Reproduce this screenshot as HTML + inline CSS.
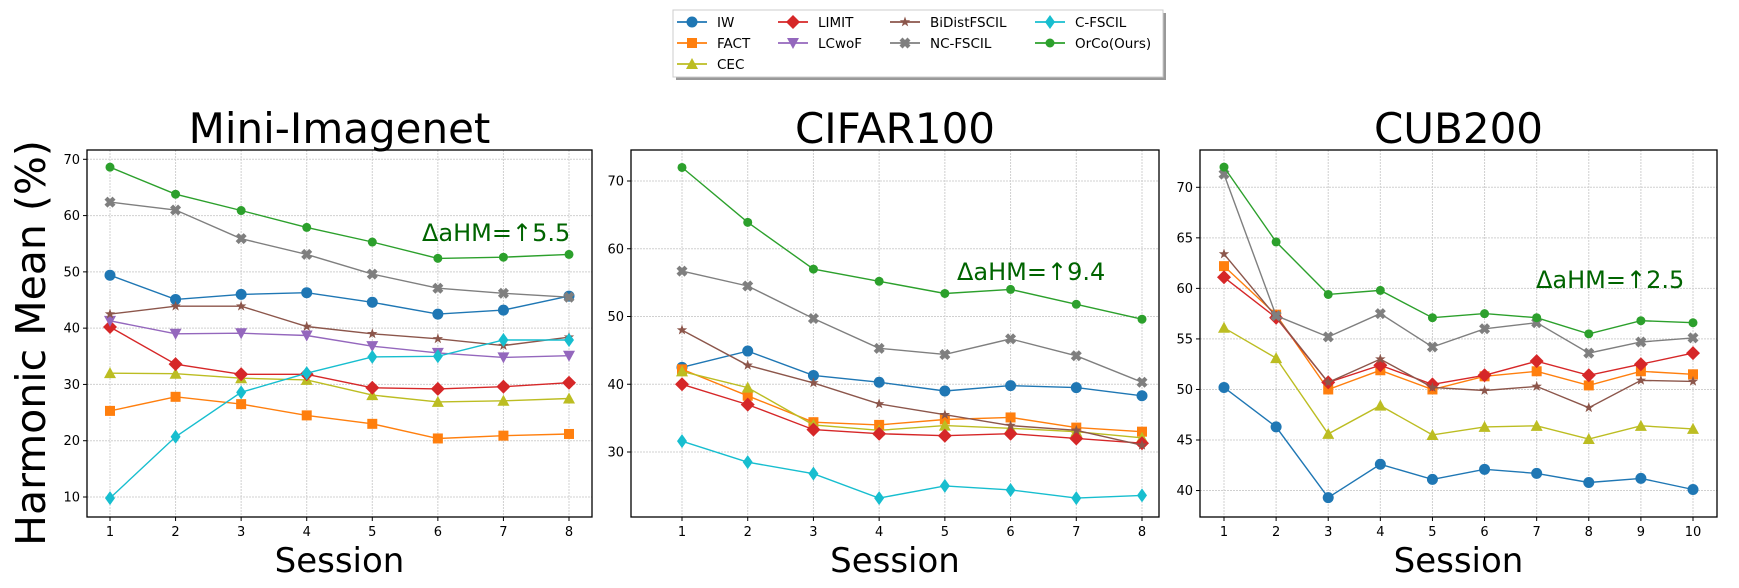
<!DOCTYPE html>
<html><head><meta charset="utf-8"><style>
html,body{margin:0;padding:0;background:#fff;}
svg{display:block;font-family:"DejaVu Sans","Liberation Sans",sans-serif;}
</style></head><body>
<svg id="chart" width="1739" height="588" viewBox="0 0 1739 588" xmlns="http://www.w3.org/2000/svg">
<text x="0" y="0" transform="translate(45,343) rotate(-90)" text-anchor="middle" font-size="41">Harmonic Mean (%)</text>
</svg>
<script>
const methods = ["IW","FACT","CEC","LIMIT","LCwoF","BiDistFSCIL","NC-FSCIL","C-FSCIL","OrCo(Ours)"];
const colors = ["#1f77b4","#ff7f0e","#bcbd22","#d62728","#9467bd","#8c564b","#7f7f7f","#17becf","#2ca02c"];
const markers = ["o","s","^","D","v","*","X","d","h"];

const sessionsMini = [1,2,3,4,5,6,7,8];
const miniIW = [49.4,45.1,46.0,46.3,44.6,42.5,43.2,45.7];
const miniFACT = [25.3,27.8,26.5,24.5,23.0,20.4,20.9,21.2];
const miniCEC = [32.0,31.9,31.1,30.8,28.1,26.9,27.1,27.5];
const miniLIMIT = [40.2,33.6,31.8,31.8,29.4,29.2,29.6,30.3];
const miniLCwoF = [41.3,39.0,39.1,38.7,36.8,35.6,34.8,35.1];
const miniBiDist = [42.5,43.9,43.9,40.3,39.0,38.1,36.9,38.4];
const miniNC = [62.4,61.0,55.9,53.1,49.6,47.1,46.2,45.5];
const miniCFSCIL = [9.8,20.7,28.6,32.0,34.9,35.0,37.9,37.9];
const miniOrCo = [68.6,63.8,60.9,57.9,55.3,52.4,52.6,53.1];
const miniTicks = [10,20,30,40,50,60,70];

const sessionsCifar = [1,2,3,4,5,6,7,8];
const cifarIW = [42.5,44.9,41.3,40.3,39.0,39.8,39.5,38.3];
const cifarFACT = [42.2,38.3,34.4,34.0,34.8,35.1,33.6,33.0];
const cifarCEC = [41.9,39.5,34.0,33.2,33.9,33.5,33.0,32.1];
const cifarLIMIT = [40.0,37.0,33.3,32.7,32.4,32.7,32.0,31.3];
const cifarBiDist = [48.0,42.8,40.2,37.1,35.5,33.9,33.2,31.0];
const cifarNC = [56.7,54.5,49.7,45.3,44.4,46.7,44.2,40.3];
const cifarCFSCIL = [31.6,28.5,26.8,23.2,25.0,24.4,23.2,23.6];
const cifarOrCo = [72.0,63.9,57.0,55.2,53.4,54.0,51.8,49.6];
const cifarTicks = [30,40,50,60,70];

const sessionsCub = [1,2,3,4,5,6,7,8,9,10];
const cubIW = [50.2,46.3,39.3,42.6,41.1,42.1,41.7,40.8,41.2,40.1];
const cubFACT = [62.2,57.4,50.0,51.9,50.0,51.3,51.8,50.4,51.8,51.5];
const cubCEC = [56.1,53.1,45.6,48.4,45.5,46.3,46.4,45.1,46.4,46.1];
const cubLIMIT = [61.1,57.1,50.7,52.4,50.5,51.4,52.8,51.4,52.5,53.6];
const cubBiDist = [63.4,57.2,50.7,53.0,50.2,49.9,50.3,48.2,50.9,50.8];
const cubNC = [71.3,57.3,55.2,57.5,54.2,56.0,56.6,53.6,54.7,55.1];
const cubOrCo = [72.0,64.6,59.4,59.8,57.1,57.5,57.1,55.5,56.8,56.6];
const cubTicks = [40,45,50,55,60,65,70];

const panels = [
 {name:"mini-imagenet",title:"Mini-Imagenet",x0:87,x1:592,sx0:110,sx1:569,vA:70,yA:159.3,vB:10,yB:497,
  sessions:sessionsMini,ticks:miniTicks,ann:"ΔaHM=↑5.5",annX:422,annY:241,
  series:[[0,miniIW],[1,miniFACT],[2,miniCEC],[3,miniLIMIT],[4,miniLCwoF],[5,miniBiDist],[6,miniNC],[7,miniCFSCIL],[8,miniOrCo]]},
 {name:"cifar100",title:"CIFAR100",x0:631,x1:1159,sx0:682,sx1:1142,vA:70,yA:181,vB:30,yB:452,
  sessions:sessionsCifar,ticks:cifarTicks,ann:"ΔaHM=↑9.4",annX:957,annY:280,
  series:[[0,cifarIW],[1,cifarFACT],[2,cifarCEC],[3,cifarLIMIT],[5,cifarBiDist],[6,cifarNC],[7,cifarCFSCIL],[8,cifarOrCo]]},
 {name:"cub200",title:"CUB200",x0:1200,x1:1717,sx0:1224,sx1:1693,vA:70,yA:187.3,vB:45,yB:440,
  sessions:sessionsCub,ticks:cubTicks,ann:"ΔaHM=↑2.5",annX:1536,annY:288,
  series:[[0,cubIW],[1,cubFACT],[2,cubCEC],[3,cubLIMIT],[5,cubBiDist],[6,cubNC],[8,cubOrCo]]}
];
const TOP=150, BOT=517;
const svg=document.getElementById('chart');
const NS="http://www.w3.org/2000/svg";
function mk(tag,attrs,parent){const e=document.createElementNS(NS,tag);for(const k in attrs)e.setAttribute(k,attrs[k]);(parent||svg).appendChild(e);return e;}

function marker(g,type,cx,cy,col){
  let e;
  if(type==="o"){e=mk('circle',{cx:cx,cy:cy,r:5.5,fill:col},g);}
  else if(type==="h"){e=mk('circle',{cx:cx,cy:cy,r:4.5,fill:col},g);}
  else if(type==="s"){e=mk('rect',{x:cx-5,y:cy-5,width:10,height:10,fill:col},g);}
  else if(type==="^"){e=mk('polygon',{points:`${cx},${cy-6} ${cx-6},${cy+5} ${cx+6},${cy+5}`,fill:col},g);}
  else if(type==="v"){e=mk('polygon',{points:`${cx},${cy+6} ${cx-6},${cy-5} ${cx+6},${cy-5}`,fill:col},g);}
  else if(type==="D"){e=mk('polygon',{points:`${cx},${cy-7} ${cx+7},${cy} ${cx},${cy+7} ${cx-7},${cy}`,fill:col},g);}
  else if(type==="d"){e=mk('polygon',{points:`${cx},${cy-7} ${cx+5},${cy} ${cx},${cy+7} ${cx-5},${cy}`,fill:col},g);}
  else if(type==="*"){let p=[];for(let i=0;i<10;i++){const r=i%2?2.2:5.5;const a=-Math.PI/2+i*Math.PI/5;p.push((cx+r*Math.cos(a)).toFixed(1)+","+(cy+r*Math.sin(a)).toFixed(1));}e=mk('polygon',{points:p.join(' '),fill:col},g);}
  else if(type==="X"){e=mk('path',{d:`M${cx-5.5} ${cy-2.5}L${cx-2.5} ${cy-5.5}L${cx} ${cy-3}L${cx+2.5} ${cy-5.5}L${cx+5.5} ${cy-2.5}L${cx+3} ${cy}L${cx+5.5} ${cy+2.5}L${cx+2.5} ${cy+5.5}L${cx} ${cy+3}L${cx-2.5} ${cy+5.5}L${cx-5.5} ${cy+2.5}L${cx-3} ${cy}Z`,fill:col},g);}
  return e;
}

panels.forEach(p=>{
  const n=p.sessions.length;
  const xs=s=>p.sx0+(s-p.sessions[0])*(p.sx1-p.sx0)/(p.sessions[n-1]-p.sessions[0]);
  const ys=v=>p.yA+(v-p.vA)*(p.yB-p.yA)/(p.vB-p.vA);
  const g=mk('g',{});
  
  
  const t=mk('text',{x:(p.x0+p.x1)/2,y:143,'text-anchor':'middle','font-size':42},g);
  t.textContent=p.title;
  
  
  p.sessions.forEach(s=>{
    const l=mk('line',{x1:xs(s),x2:xs(s),y1:TOP,y2:BOT,stroke:'#d0d0d0','stroke-width':1,'stroke-dasharray':'2,1'},g);
    
    
    const tk=mk('line',{x1:xs(s),x2:xs(s),y1:BOT,y2:BOT+4,stroke:'#000'},g);
    
    
    const lb=mk('text',{x:xs(s),y:BOT+19,'text-anchor':'middle','font-size':13},g);
    lb.textContent=s;
    
    
  });
  p.ticks.forEach(v=>{
    const l=mk('line',{x1:p.x0,x2:p.x1,y1:ys(v),y2:ys(v),stroke:'#d0d0d0','stroke-width':1,'stroke-dasharray':'2,1'},g);
    
    
    const tk=mk('line',{x1:p.x0-4,x2:p.x0,y1:ys(v),y2:ys(v),stroke:'#000'},g);
    
    
    const lb=mk('text',{x:p.x0-7,y:ys(v)+4.5,'text-anchor':'end','font-size':13},g);
    lb.textContent=v;
    
    
  });
  p.series.forEach(([mi,vals])=>{
    const sg=mk('g',{},g);
    
    
    const pts=vals.map((v,i)=>xs(p.sessions[i]).toFixed(1)+','+ys(v).toFixed(1)).join(' ');
    mk('polyline',{points:pts,fill:'none',stroke:colors[mi],'stroke-width':1.4},sg);
    vals.forEach((v,i)=>{
      const m=marker(sg,markers[mi],xs(p.sessions[i]),ys(v),colors[mi]);
      
      
    });
  });
  const box=mk('rect',{x:p.x0,y:TOP,width:p.x1-p.x0,height:BOT-TOP,fill:'none',stroke:'#000','stroke-width':1.3},g);
  
  
  const xl=mk('text',{x:(p.x0+p.x1)/2,y:572,'text-anchor':'middle','font-size':34},g);
  xl.textContent='Session';
  
  
  const an=mk('text',{x:p.annX,y:p.annY,'font-size':24,fill:'#006400'},g);
  an.textContent=p.ann;
  
  
});

const lg=mk('g',{});


mk('rect',{x:676,y:13,width:490,height:67,fill:'#999'},lg);
mk('rect',{x:673,y:10,width:490,height:67,fill:'#fff',stroke:'#ccc','stroke-width':1},lg);
const colX=[677,778,890,1035];
const rowY=[22,43,64];
const layout=[[0,0],[0,1],[0,2],[1,0],[1,1],[2,0],[2,1],[3,0],[3,1]];
methods.forEach((m,i)=>{
  const [c,r]=layout[i];
  const eg=mk('g',{},lg);
  
  
  mk('line',{x1:colX[c],x2:colX[c]+30,y1:rowY[r],y2:rowY[r],stroke:colors[i],'stroke-width':1.8},eg);
  marker(eg,markers[i],colX[c]+15,rowY[r],colors[i]);
  const t=mk('text',{x:colX[c]+40,y:rowY[r]+5,'font-size':13.5},eg);
  t.textContent=m;
});
</script>
</body></html>
